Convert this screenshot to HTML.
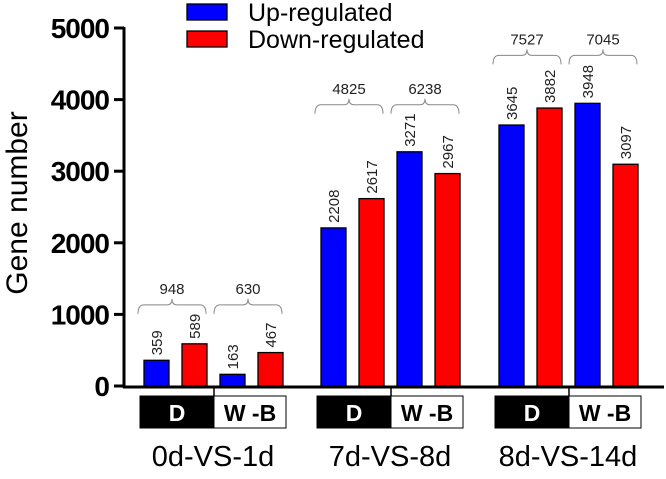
<!DOCTYPE html>
<html><head><meta charset="utf-8"><style>
body{margin:0;background:#fff}
svg{display:block;font-family:"Liberation Sans",Arial,sans-serif}
</style></head><body>
<svg id="c" width="666" height="479"></svg>
<script>
const groups=["0d-VS-1d","7d-VS-8d","8d-VS-14d"];
const upValues=[359,163,2208,3271,3645,3948];
const downValues=[589,467,2617,2967,3882,3097];
const totals=[948,630,4825,6238,7527,7045];
const yTicks=[0,1000,2000,3000,4000,5000];
const subLabels=["D","W -B"];
const NS="http://www.w3.org/2000/svg";
const svg=document.getElementById('c');
function mk(t,a,p){const e=document.createElementNS(NS,t);for(const k in a)e.setAttribute(k,a[k]);(p||svg).appendChild(e);return e;}
const y0=386,pxPer=358/5000;
function Y(v){return y0-v*pxPer;}
const groupX=[144,321,499];
const braceOffset=[39,47,48];
function barX(g,s,k){return groupX[g]+s*76+k*38;}
let e;
e=mk('line',{x1:124,y1:27,x2:124,y2:388,stroke:'#000','stroke-width':3});

e=mk('line',{x1:123,y1:387,x2:664,y2:387,stroke:'#000','stroke-width':3});

yTicks.forEach(v=>{
  mk('line',{x1:114,y1:Y(v),x2:124,y2:Y(v),stroke:'#000','stroke-width':3});
  const t=mk('text',{x:109,y:Y(v)+10,'text-anchor':'end','font-size':28,'font-weight':'bold','letter-spacing':-1});
  t.textContent=v;
  
});
e=mk('text',{x:27,y:203,'text-anchor':'middle','font-size':30,transform:'rotate(-90 27 203)'});
e.textContent='Gene number';

for(let g=0;g<3;g++){
  let gmax=0;
  for(let i=g*2;i<g*2+2;i++)gmax=Math.max(gmax,upValues[i],downValues[i]);
  const yb=Y(gmax)-braceOffset[g];
  for(let s=0;s<2;s++){
    const i=g*2+s;
    [[upValues[i],'#0000ff'],[downValues[i],'#ff0000']].forEach((d,k)=>{
      const x=barX(g,s,k);
      const r=mk('rect',{x:x,y:Y(d[0]),width:25,height:y0-Y(d[0]),fill:d[1],stroke:'#000','stroke-width':1.3});
      
      const tx=x+18,ty=Y(d[0])-5;
      const t=mk('text',{x:tx,y:ty,'font-size':15,fill:'#222',transform:`rotate(-90 ${tx} ${ty})`});
      t.textContent=d[0];
      
    });
    const bx1=barX(g,s,0)-6,bx2=barX(g,s,1)+24,mid=(bx1+bx2)/2;
    const p=mk('path',{d:`M${bx1} ${yb+9} Q${bx1} ${yb} ${bx1+6} ${yb} L${mid-5} ${yb} Q${mid} ${yb} ${mid} ${yb-6} Q${mid} ${yb} ${mid+5} ${yb} L${bx2-6} ${yb} Q${bx2} ${yb} ${bx2} ${yb+9}`,fill:'none',stroke:'#888','stroke-width':1});
    
    const t=mk('text',{x:mid,y:yb-11,'text-anchor':'middle','font-size':15,fill:'#222'});
    t.textContent=totals[i];
    
    const x0=groupX[g]-4+s*74;
    const r=mk('rect',{x:x0,y:396,width:s?72:74,height:32,fill:s?'#fff':'#000',stroke:'#000','stroke-width':1});
    
    const st=mk('text',{x:x0+(s?36:37),y:421,'text-anchor':'middle','font-size':23,'font-weight':'bold',fill:s?'#000':'#fff'});
    st.textContent=subLabels[s];
    
  }
  mk('line',{x1:groupX[g]+70,y1:387,x2:groupX[g]+70,y2:396,stroke:'#000','stroke-width':1.5});
  const gl=mk('text',{x:groupX[g]+69,y:466,'text-anchor':'middle','font-size':29});
  gl.textContent=groups[g];
  
}
[['#0000ff','Up-regulated',4],['#ff0000','Down-regulated',31]].forEach(l=>{
  const r=mk('rect',{x:187,y:l[2],width:40,height:16,fill:l[0],stroke:'#000','stroke-width':1.3});
  
  const t=mk('text',{x:248,y:l[2]+17,'font-size':25});
  t.textContent=l[1];
  
});
</script>
</body></html>
